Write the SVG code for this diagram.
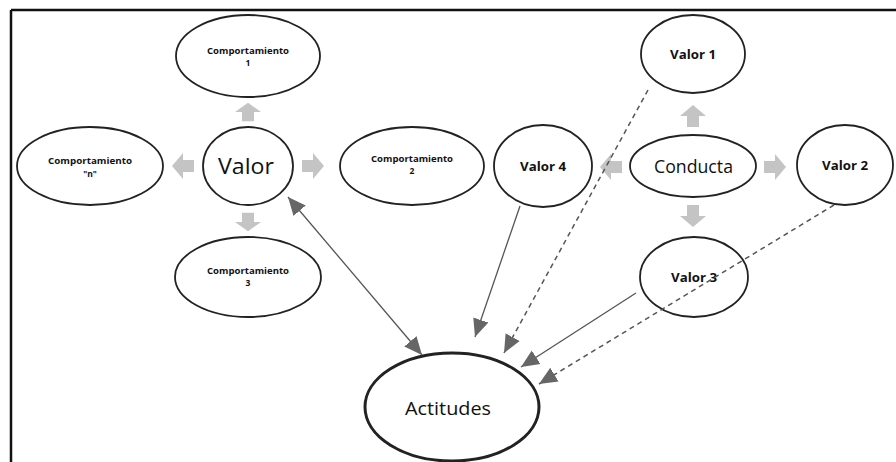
<svg xmlns="http://www.w3.org/2000/svg" width="896" height="462" viewBox="0 0 896 462">
<style>
.node{fill:#fff;stroke:#222;stroke-width:1.8}
.big{fill:#fff;stroke:#222;stroke-width:3}
.sm{font-family:"Open Sans","DejaVu Sans",sans-serif;font-weight:bold;font-size:8.5px;fill:#111;text-anchor:middle}
.mid{font-family:"Open Sans","DejaVu Sans",sans-serif;font-weight:bold;font-size:13px;fill:#111;text-anchor:middle}
.lg{font-family:"Open Sans","DejaVu Sans",sans-serif;font-size:22px;fill:#111;text-anchor:middle}
.blk{fill:#c4c4c4}
.con{stroke:#555;stroke-width:1.3;fill:none}
.dash{stroke:#555;stroke-width:1.5;fill:none;stroke-dasharray:5 4}
</style>
<defs>
<marker id="ah" markerUnits="userSpaceOnUse" markerWidth="20" markerHeight="18" refX="18" refY="8" orient="auto-start-reverse" viewBox="0 0 20 16">
<path d="M0,0 L18,8 L0,16 Z" fill="#666"/>
</marker>
<path id="blkarrow" d="M-11,-6 H0 V-13 L11,0 L0,13 V6 H-11 Z"/>
</defs>
<g id="frame" stroke="#111" stroke-width="2.5" fill="none">
<line x1="11" y1="10" x2="896" y2="10"/>
<line x1="11" y1="10" x2="11" y2="462"/>
</g>
<g id="block-arrows" class="blk">
<use href="#blkarrow" transform="translate(248,112) rotate(-90) scale(0.85,1)"/>
<use href="#blkarrow" transform="translate(183,166) rotate(180)"/>
<use href="#blkarrow" transform="translate(313,166)"/>
<use href="#blkarrow" transform="translate(248,222) rotate(90) scale(0.85,1)"/>
<use href="#blkarrow" transform="translate(693,116) rotate(-90)"/>
<use href="#blkarrow" transform="translate(611,167) rotate(180)"/>
<use href="#blkarrow" transform="translate(775,167)"/>
<use href="#blkarrow" transform="translate(693,216) rotate(90)"/>
</g>
<g id="comportamiento1">
<ellipse class="node" cx="248" cy="56" rx="72" ry="41"/>
<text class="sm" x="248" y="54" textLength="82" lengthAdjust="spacingAndGlyphs">Comportamiento</text>
<text class="sm" x="248" y="66">1</text>
</g>
<g id="comportamienton">
<ellipse class="node" cx="90" cy="166" rx="73" ry="39"/>
<text class="sm" x="90" y="164" textLength="84" lengthAdjust="spacingAndGlyphs">Comportamiento</text>
<text class="sm" x="90" y="177">"n"</text>
</g>
<g id="valor">
<ellipse class="node" cx="248" cy="166" rx="45" ry="39"/>
<text class="lg" x="246" y="174" textLength="56" lengthAdjust="spacingAndGlyphs">Valor</text>
</g>
<g id="comportamiento2">
<ellipse class="node" cx="412" cy="166" rx="72" ry="39"/>
<text class="sm" x="412" y="162" textLength="82" lengthAdjust="spacingAndGlyphs">Comportamiento</text>
<text class="sm" x="412" y="174">2</text>
</g>
<g id="comportamiento3">
<ellipse class="node" cx="248" cy="277" rx="73" ry="40"/>
<text class="sm" x="248" y="274" textLength="82" lengthAdjust="spacingAndGlyphs">Comportamiento</text>
<text class="sm" x="248" y="286">3</text>
</g>
<g id="valor4">
<ellipse class="node" cx="543" cy="166" rx="49" ry="41"/>
<text class="mid" x="543" y="171" textLength="46" lengthAdjust="spacingAndGlyphs">Valor 4</text>
</g>
<g id="conducta">
<ellipse class="node" cx="693" cy="166" rx="63" ry="31"/>
<text class="lg" x="693.5" y="173" style="font-size:18px" textLength="79" lengthAdjust="spacingAndGlyphs">Conducta</text>
</g>
<g id="valor1">
<ellipse class="node" cx="693" cy="54" rx="52" ry="39"/>
<text class="mid" x="693" y="59" textLength="46" lengthAdjust="spacingAndGlyphs">Valor 1</text>
</g>
<g id="valor2">
<ellipse class="node" cx="845" cy="165" rx="48" ry="40"/>
<text class="mid" x="845" y="170" textLength="46" lengthAdjust="spacingAndGlyphs">Valor 2</text>
</g>
<g id="valor3">
<ellipse class="node" cx="694" cy="277" rx="54" ry="40"/>
<text class="mid" x="694" y="282" textLength="46" lengthAdjust="spacingAndGlyphs">Valor 3</text>
</g>
<g id="actitudes">
<ellipse class="big" cx="452" cy="407" rx="87" ry="54"/>
<text class="lg" x="448" y="415" style="font-size:19px" textLength="86" lengthAdjust="spacingAndGlyphs">Actitudes</text>
</g>
<g id="connectors">
<line class="con" x1="288" y1="197" x2="422" y2="355" marker-start="url(#ah)" marker-end="url(#ah)"/>
<line class="con" x1="520" y1="206" x2="475" y2="337" marker-end="url(#ah)"/>
<line class="dash" x1="648" y1="90" x2="504" y2="353" marker-end="url(#ah)"/>
<line class="con" x1="636" y1="293" x2="521" y2="367" marker-end="url(#ah)"/>
<line class="dash" x1="834" y1="205" x2="539" y2="384" marker-end="url(#ah)"/>
</g>
</svg>
